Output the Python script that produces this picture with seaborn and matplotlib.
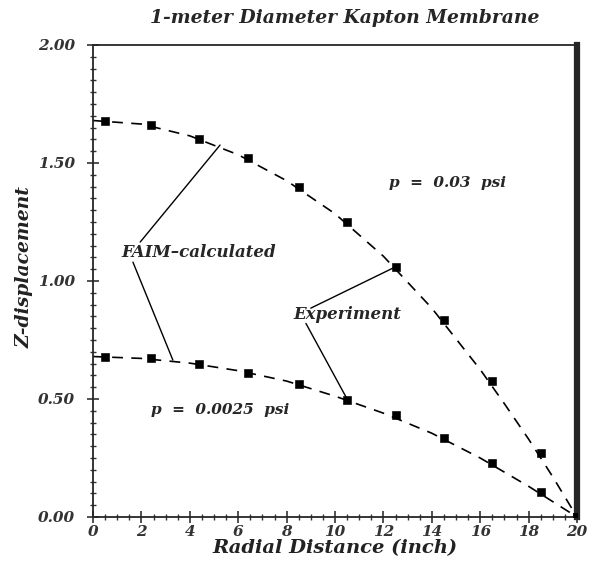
import matplotlib
matplotlib.use("Agg")
import matplotlib.pyplot as plt
import seaborn as sns
import pandas as pd
from matplotlib.ticker import MultipleLocator, FormatStrFormatter

# Experimental points
exp_x = [0.5, 2.4, 4.4, 6.4, 8.5, 10.5, 12.5, 14.5, 16.5, 18.5, 20.0]
exp_high = [1.68, 1.66, 1.60, 1.52, 1.40, 1.25, 1.06, 0.835, 0.575, 0.27, 0.0]
exp_low = [0.678, 0.672, 0.648, 0.61, 0.565, 0.497, 0.432, 0.335, 0.228, 0.107, 0.0]

# FAIM-calculated curves
calc_x = [0, 2, 4, 6, 8, 10, 12, 14, 16, 17, 18, 19, 20]
calc_high = [1.68, 1.665, 1.615, 1.535, 1.425, 1.285, 1.105, 0.885, 0.625, 0.48, 0.33, 0.17, 0.0]
calc_low = [0.68, 0.672, 0.652, 0.62, 0.576, 0.512, 0.44, 0.355, 0.25, 0.19, 0.13, 0.065, 0.0]

sns.set_style("ticks")
plt.rcParams['font.family'] = ['DejaVu Serif']

fig = plt.figure(figsize=(6.03, 5.67), dpi=100)
ax = fig.add_axes([93/603, 50/567, 484/603, 472/567])

calc_df = pd.concat([
    pd.DataFrame({"x": calc_x, "y": calc_high, "case": "high"}),
    pd.DataFrame({"x": calc_x, "y": calc_low, "case": "low"}),
])
exp_df = pd.concat([
    pd.DataFrame({"x": exp_x, "y": exp_high, "case": "high"}),
    pd.DataFrame({"x": exp_x, "y": exp_low, "case": "low"}),
])

for case in ["high", "low"]:
    sns.lineplot(data=calc_df[calc_df.case == case], x="x", y="y", ax=ax,
                 color="black", linewidth=1.2, linestyle=(0, (6.5, 5)),
                 legend=False, sort=False)
sns.scatterplot(data=exp_df, x="x", y="y", ax=ax, marker="s", s=30,
                color="black", edgecolor="black", legend=False, zorder=5)

ax.set_xlim(0, 20)
ax.set_ylim(0, 2.0)
ax.xaxis.set_major_locator(MultipleLocator(2))
ax.xaxis.set_minor_locator(MultipleLocator(0.5))
ax.yaxis.set_major_locator(MultipleLocator(0.5))
ax.yaxis.set_minor_locator(MultipleLocator(0.05))
ax.yaxis.set_major_formatter(FormatStrFormatter("%.2f"))
ax.tick_params(axis="both", which="major", direction="inout", length=8, width=1.2,
               labelsize=11, colors="#333333")
ax.tick_params(axis="y", which="major", pad=9)
ax.tick_params(axis="x", which="major", pad=2)
ax.tick_params(axis="both", which="minor", direction="inout", length=5, width=1.0,
               colors="#333333")
for lab in ax.get_xticklabels() + ax.get_yticklabels():
    lab.set_fontstyle("italic")
    lab.set_fontweight("bold")

for side in ["left", "bottom", "top"]:
    ax.spines[side].set_visible(True)
    ax.spines[side].set_linewidth(1.3)
ax.spines["right"].set_visible(True)
ax.spines["right"].set_linewidth(4.5)

fnt = dict(fontstyle="italic", fontweight="bold")
ax.set_xlabel("Radial Distance (inch)", fontsize=14, labelpad=0, color="#222222", **fnt)
ax.set_ylabel("Z-displacement", fontsize=13.5, labelpad=10, color="#222222", **fnt)
ax.yaxis.set_label_coords(-0.123, 0.53)
fig.text(345/603, 1 - 18/567, "1-meter Diameter Kapton Membrane", fontsize=13.5,
         ha="center", va="center", **fnt)

# annotations
ax.text(4.35, 1.12, "FAIM\u2013calculated", fontsize=12, ha="center", va="center", **fnt)
ax.plot([1.95, 5.25], [1.165, 1.576], color="black", lw=1.0)
ax.plot([1.65, 3.3], [1.08, 0.665], color="black", lw=1.0)
ax.text(10.5, 0.856, "Experiment", fontsize=12, ha="center", va="center", **fnt)
ax.plot([9.0, 12.5], [0.885, 1.06], color="black", lw=1.0)
ax.plot([8.8, 10.5], [0.82, 0.50], color="black", lw=1.0)
ax.text(14.63, 1.415, "p  =  0.03  psi", fontsize=11, ha="center", va="center", **fnt)
ax.text(5.25, 0.453, "p  =  0.0025  psi", fontsize=11, ha="center", va="center", **fnt)

fig.savefig("out.png", dpi=100)
